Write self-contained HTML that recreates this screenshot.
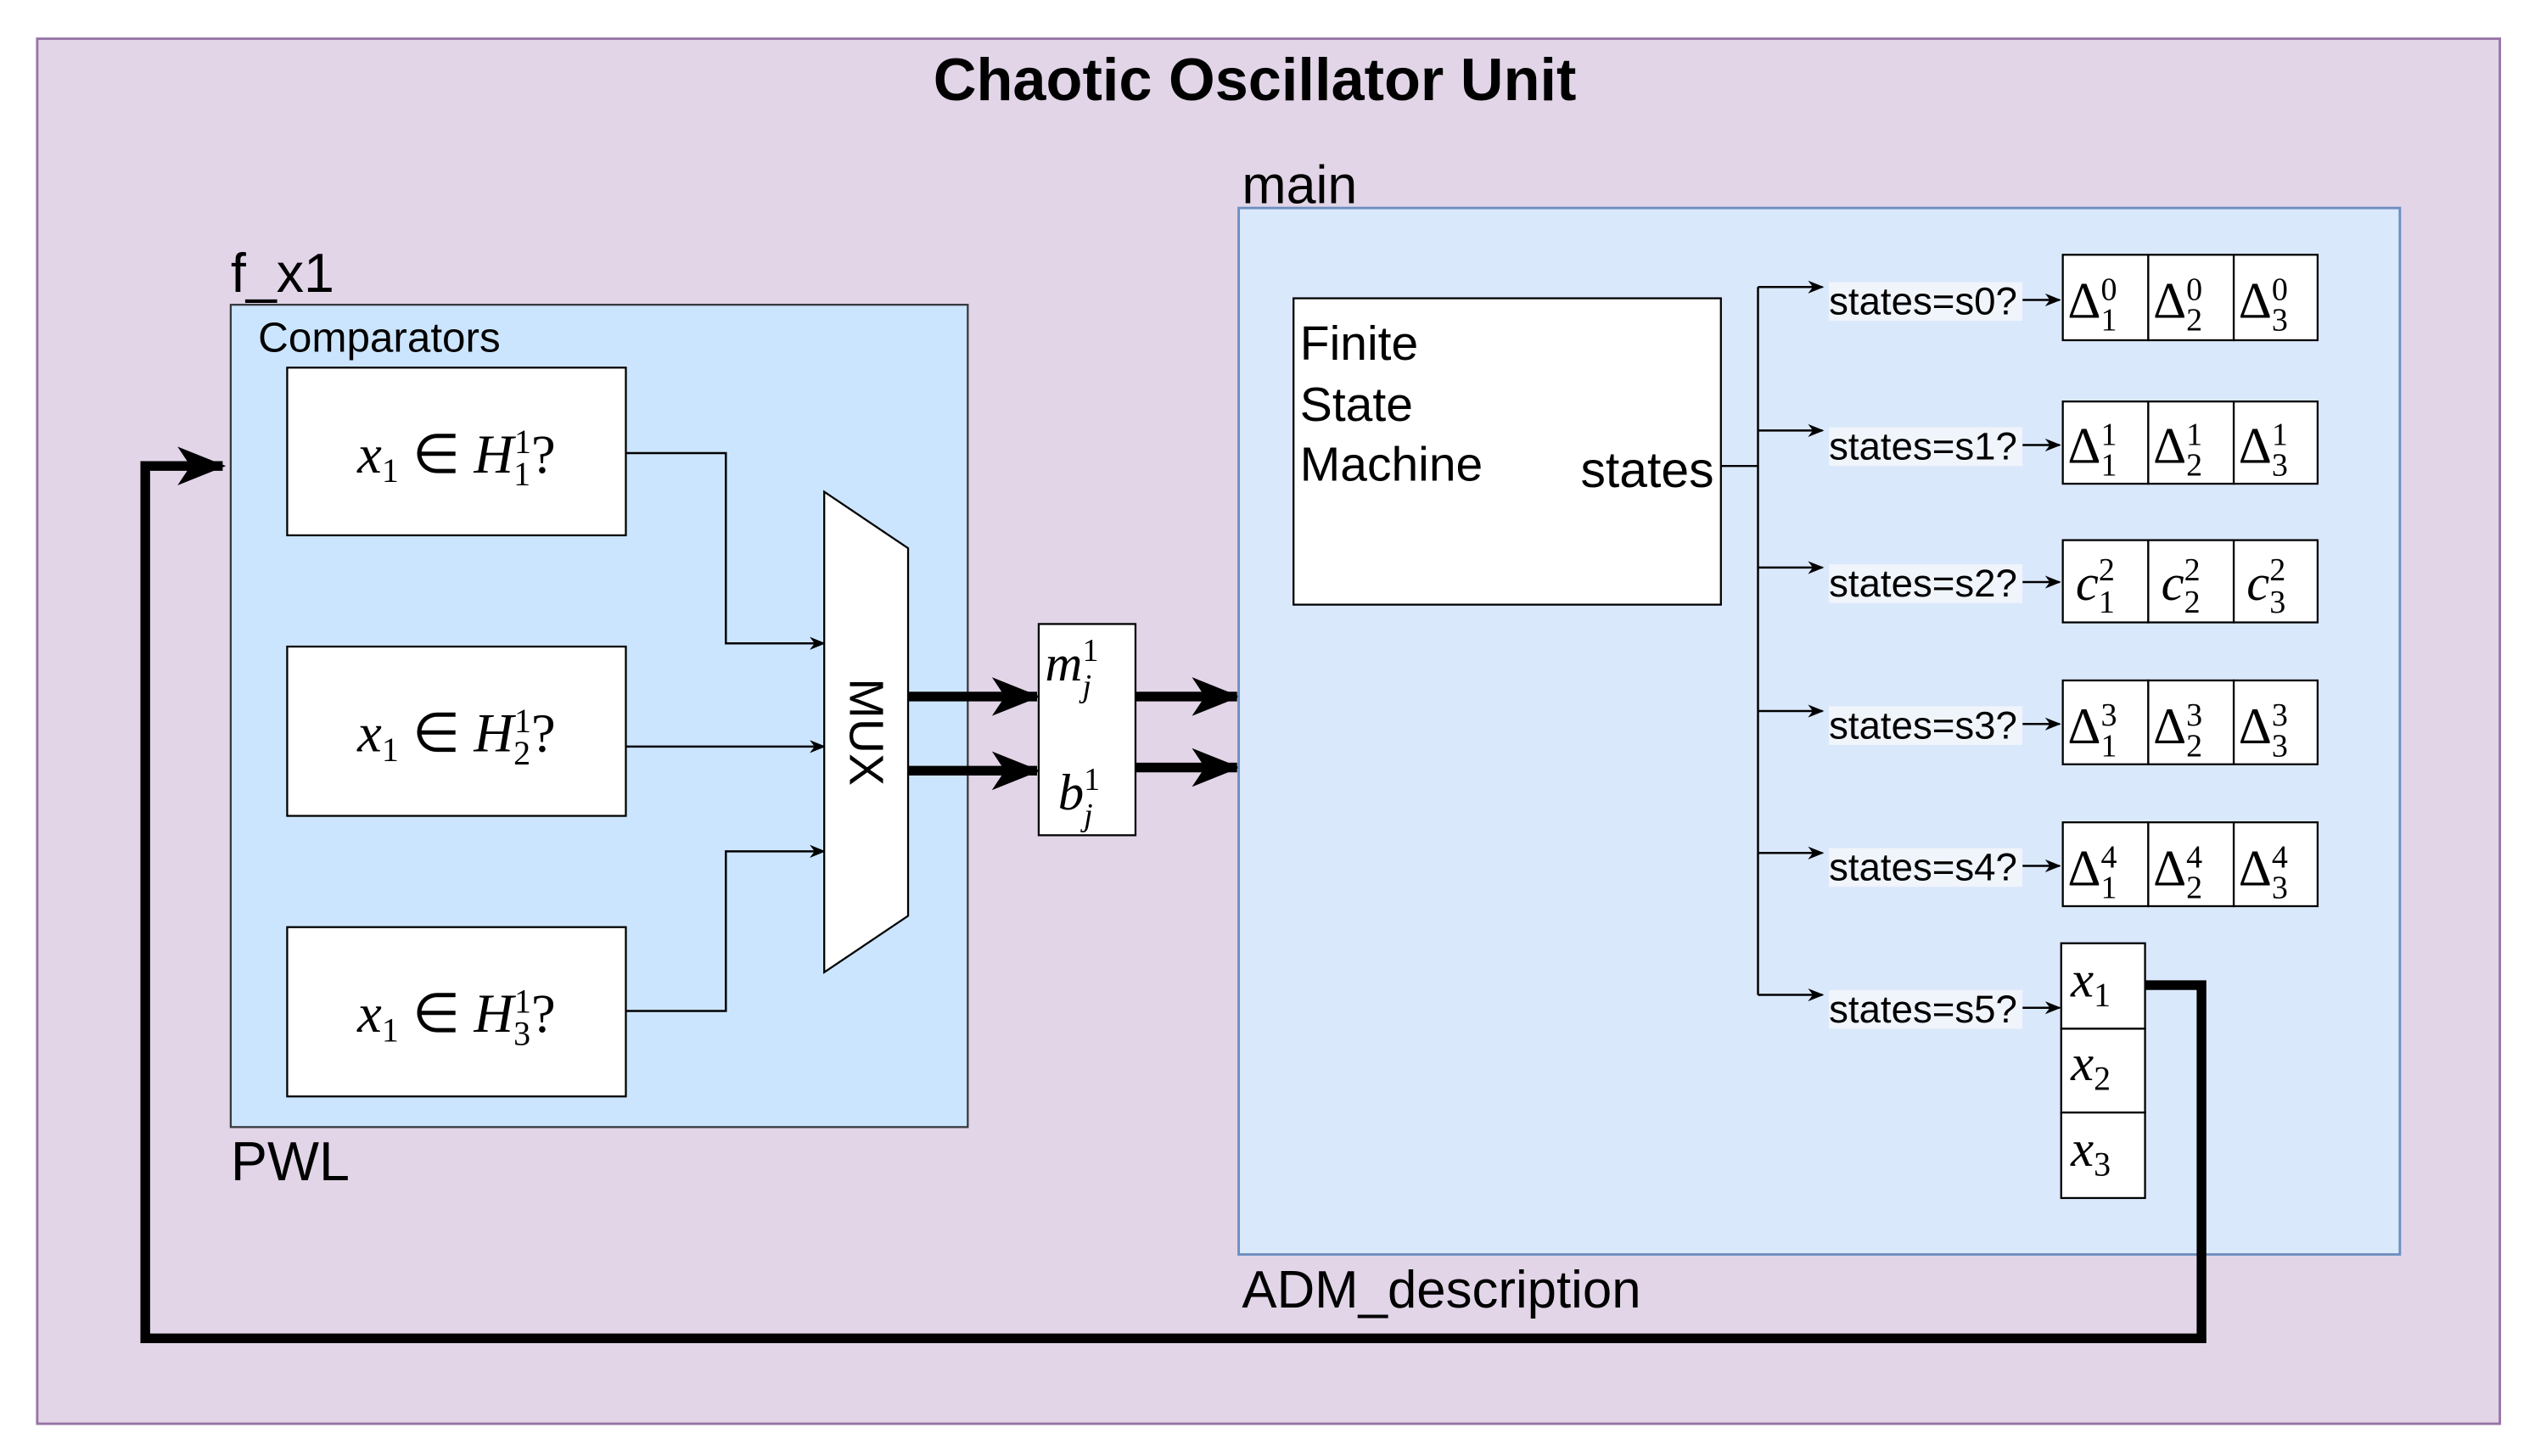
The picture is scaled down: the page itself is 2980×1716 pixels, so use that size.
<!DOCTYPE html>
<html><head><meta charset="utf-8"><style>
html,body{margin:0;padding:0;background:#fff;}
svg{display:block;}
.s{font-family:"Liberation Sans",sans-serif;}
.m{font-family:"Liberation Serif",serif;font-style:italic;}
.u{font-family:"Liberation Serif",serif;}
</style></head><body>
<svg width="2980" height="1716" viewBox="0 0 1568 903" xmlns="http://www.w3.org/2000/svg">
<defs>
<marker id="a" markerWidth="10" markerHeight="10" refX="9" refY="5" orient="auto" markerUnits="userSpaceOnUse"><path d="M0,1 L10,5 L0,9 L3,5 Z" fill="#000"/></marker>
<marker id="b" markerWidth="30" markerHeight="30" refX="28" refY="15" orient="auto" markerUnits="userSpaceOnUse"><path d="M0,3 L30,15 L0,27 L8,15 Z" fill="#000"/></marker>
</defs>
<rect x="23" y="24" width="1527" height="859" fill="#e1d5e7" stroke="#9673a6" stroke-width="1.5"/>
<text x="778" y="62" text-anchor="middle" class="s" font-weight="bold" font-size="37">Chaotic Oscillator Unit</text>

<text x="143" y="181" class="s" font-size="34">f_x1</text>
<rect x="143" y="189" width="457" height="510" fill="#cce5ff" stroke="#36393d" stroke-width="1.2"/>
<text x="160" y="218" class="s" font-size="26">Comparators</text>
<text x="143" y="732" class="s" font-size="34">PWL</text>

<g fill="#fff" stroke="#000" stroke-width="1.2">
<rect x="178" y="228" width="210" height="104"/>
<rect x="178" y="401" width="210" height="105"/>
<rect x="178" y="575" width="210" height="105"/>
</g>
<g font-size="34">
<text x="283" y="293" text-anchor="middle"><tspan class="m">x</tspan><tspan class="u" font-size="21" dy="6">1</tspan><tspan class="u" dy="-6"> ∈ </tspan><tspan class="m">H</tspan><tspan class="u" font-size="21" dy="8">1</tspan><tspan class="u" font-size="21" dx="-10" dy="-20">1</tspan><tspan class="u" dy="12">?</tspan></text>
<text x="283" y="466" text-anchor="middle"><tspan class="m">x</tspan><tspan class="u" font-size="21" dy="6">1</tspan><tspan class="u" dy="-6"> ∈ </tspan><tspan class="m">H</tspan><tspan class="u" font-size="21" dy="8">2</tspan><tspan class="u" font-size="21" dx="-10" dy="-20">1</tspan><tspan class="u" dy="12">?</tspan></text>
<text x="283" y="640" text-anchor="middle"><tspan class="m">x</tspan><tspan class="u" font-size="21" dy="6">1</tspan><tspan class="u" dy="-6"> ∈ </tspan><tspan class="m">H</tspan><tspan class="u" font-size="21" dy="8">3</tspan><tspan class="u" font-size="21" dx="-10" dy="-20">1</tspan><tspan class="u" dy="12">?</tspan></text>
</g>

<g fill="none" stroke="#000" stroke-width="1.3">
<polyline points="388,281 450,281 450,399 511,399" marker-end="url(#a)"/>
<polyline points="388,463 511,463" marker-end="url(#a)"/>
<polyline points="388,627 450,627 450,528 511,528" marker-end="url(#a)"/>
</g>
<polygon points="511,305 563,340 563,568 511,603" fill="#fff" stroke="#000" stroke-width="1.2"/>
<text x="537" y="454" class="s" font-size="30" text-anchor="middle" transform="rotate(90 537 454)" dy="10">MUX</text>

<g stroke="#000" stroke-width="6" fill="none">
<line x1="563" y1="432" x2="643" y2="432" marker-end="url(#b)"/>
<line x1="563" y1="478" x2="643" y2="478" marker-end="url(#b)"/>
<line x1="704" y1="432" x2="767" y2="432" marker-end="url(#b)"/>
<line x1="704" y1="476" x2="767" y2="476" marker-end="url(#b)"/>
</g>
<rect x="644" y="387" width="60" height="131" fill="#fff" stroke="#000" stroke-width="1.2"/>
<text x="648" y="422" font-size="32"><tspan class="m">m</tspan><tspan class="u" font-size="20" dy="-12">1</tspan><tspan class="m" font-size="20" dx="-10" dy="22">j</tspan></text>
<text x="656" y="502" font-size="32"><tspan class="m">b</tspan><tspan class="u" font-size="20" dy="-12">1</tspan><tspan class="m" font-size="20" dx="-10" dy="22">j</tspan></text>

<text x="770" y="126" class="s" font-size="33">main</text>
<rect x="768" y="129" width="720" height="649" fill="#dae8fc" stroke="#6c8ebf" stroke-width="1.5"/>
<text x="770" y="811" class="s" font-size="32.5">ADM_description</text>

<rect x="802" y="185" width="265" height="190" fill="#fff" stroke="#000" stroke-width="1.2"/>
<g class="s" font-size="30">
<text x="806" y="223">Finite</text>
<text x="806" y="261">State</text>
<text x="806" y="298">Machine</text>
<text x="980" y="302" font-size="31">states</text>
</g>

<g fill="none" stroke="#000" stroke-width="1.3">
<line x1="1067" y1="289" x2="1090" y2="289"/>
<line x1="1090" y1="178" x2="1090" y2="617"/>
<line x1="1090" y1="178" x2="1130" y2="178" marker-end="url(#a)"/>
<line x1="1090" y1="267" x2="1130" y2="267" marker-end="url(#a)"/>
<line x1="1090" y1="352" x2="1130" y2="352" marker-end="url(#a)"/>
<line x1="1090" y1="441" x2="1130" y2="441" marker-end="url(#a)"/>
<line x1="1090" y1="529" x2="1130" y2="529" marker-end="url(#a)"/>
<line x1="1090" y1="617" x2="1130" y2="617" marker-end="url(#a)"/>
<line x1="1254" y1="186" x2="1277" y2="186" marker-end="url(#a)"/>
<line x1="1254" y1="276" x2="1277" y2="276" marker-end="url(#a)"/>
<line x1="1254" y1="361" x2="1277" y2="361" marker-end="url(#a)"/>
<line x1="1254" y1="449" x2="1277" y2="449" marker-end="url(#a)"/>
<line x1="1254" y1="537" x2="1277" y2="537" marker-end="url(#a)"/>
<line x1="1254" y1="625" x2="1277" y2="625" marker-end="url(#a)"/>
</g>
<g class="s" font-size="24">
<rect x="1134" y="175" width="120" height="24" fill="#f0f4fb"/><text x="1134" y="195">states=s0?</text>
<rect x="1134" y="265" width="120" height="24" fill="#f0f4fb"/><text x="1134" y="285">states=s1?</text>
<rect x="1134" y="350" width="120" height="24" fill="#f0f4fb"/><text x="1134" y="370">states=s2?</text>
<rect x="1134" y="438" width="120" height="24" fill="#f0f4fb"/><text x="1134" y="458">states=s3?</text>
<rect x="1134" y="526" width="120" height="24" fill="#f0f4fb"/><text x="1134" y="546">states=s4?</text>
<rect x="1134" y="614" width="120" height="24" fill="#f0f4fb"/><text x="1134" y="634">states=s5?</text>
</g>

<g fill="#fff" stroke="#000" stroke-width="1.2">
<rect x="1279" y="158" width="53" height="53"/><rect x="1332" y="158" width="53" height="53"/><rect x="1385" y="158" width="52" height="53"/>
<rect x="1279" y="249" width="53" height="51"/><rect x="1332" y="249" width="53" height="51"/><rect x="1385" y="249" width="52" height="51"/>
<rect x="1279" y="335" width="53" height="51"/><rect x="1332" y="335" width="53" height="51"/><rect x="1385" y="335" width="52" height="51"/>
<rect x="1279" y="422" width="53" height="52"/><rect x="1332" y="422" width="53" height="52"/><rect x="1385" y="422" width="52" height="52"/>
<rect x="1279" y="510" width="53" height="52"/><rect x="1332" y="510" width="53" height="52"/><rect x="1385" y="510" width="52" height="52"/>
<rect x="1278" y="585" width="52" height="53"/><rect x="1278" y="638" width="52" height="52"/><rect x="1278" y="690" width="52" height="53"/>
</g>
<g font-size="32" class="u">
<text x="1282" y="197">Δ<tspan font-size="20" dy="-11">0</tspan><tspan font-size="20" dx="-10" dy="19">1</tspan></text>
<text x="1335" y="197">Δ<tspan font-size="20" dy="-11">0</tspan><tspan font-size="20" dx="-10" dy="19">2</tspan></text>
<text x="1388" y="197">Δ<tspan font-size="20" dy="-11">0</tspan><tspan font-size="20" dx="-10" dy="19">3</tspan></text>
<text x="1282" y="287">Δ<tspan font-size="20" dy="-11">1</tspan><tspan font-size="20" dx="-10" dy="19">1</tspan></text>
<text x="1335" y="287">Δ<tspan font-size="20" dy="-11">1</tspan><tspan font-size="20" dx="-10" dy="19">2</tspan></text>
<text x="1388" y="287">Δ<tspan font-size="20" dy="-11">1</tspan><tspan font-size="20" dx="-10" dy="19">3</tspan></text>
<text x="1287" y="372"><tspan class="m">c</tspan><tspan font-size="20" dy="-12">2</tspan><tspan font-size="20" dx="-10" dy="20">1</tspan></text>
<text x="1340" y="372"><tspan class="m">c</tspan><tspan font-size="20" dy="-12">2</tspan><tspan font-size="20" dx="-10" dy="20">2</tspan></text>
<text x="1393" y="372"><tspan class="m">c</tspan><tspan font-size="20" dy="-12">2</tspan><tspan font-size="20" dx="-10" dy="20">3</tspan></text>
<text x="1282" y="461">Δ<tspan font-size="20" dy="-11">3</tspan><tspan font-size="20" dx="-10" dy="19">1</tspan></text>
<text x="1335" y="461">Δ<tspan font-size="20" dy="-11">3</tspan><tspan font-size="20" dx="-10" dy="19">2</tspan></text>
<text x="1388" y="461">Δ<tspan font-size="20" dy="-11">3</tspan><tspan font-size="20" dx="-10" dy="19">3</tspan></text>
<text x="1282" y="549">Δ<tspan font-size="20" dy="-11">4</tspan><tspan font-size="20" dx="-10" dy="19">1</tspan></text>
<text x="1335" y="549">Δ<tspan font-size="20" dy="-11">4</tspan><tspan font-size="20" dx="-10" dy="19">2</tspan></text>
<text x="1388" y="549">Δ<tspan font-size="20" dy="-11">4</tspan><tspan font-size="20" dx="-10" dy="19">3</tspan></text>
<text x="1284" y="618"><tspan class="m">x</tspan><tspan font-size="21" dy="6">1</tspan></text>
<text x="1284" y="670"><tspan class="m">x</tspan><tspan font-size="21" dy="6">2</tspan></text>
<text x="1284" y="723"><tspan class="m">x</tspan><tspan font-size="21" dy="6">3</tspan></text>
</g>

<polyline points="1330,611 1365,611 1365,830 90,830 90,289 138,289" fill="none" stroke="#000" stroke-width="6" marker-end="url(#b)"/>
</svg>
</body></html>
